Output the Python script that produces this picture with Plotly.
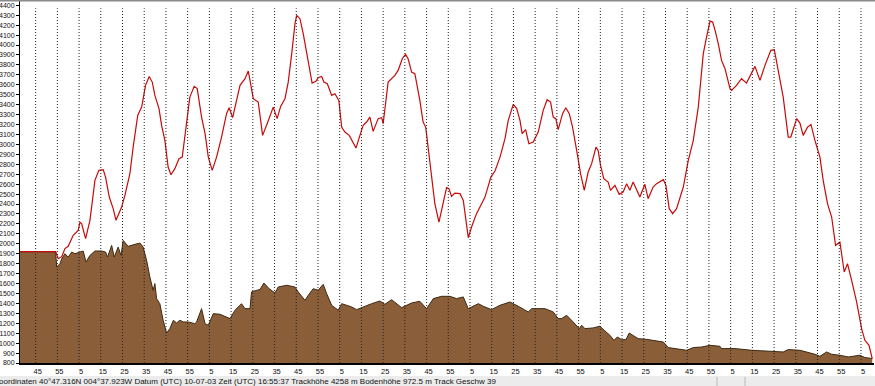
import plotly.graph_objects as go

# ---- data (x = time in minutes, labels shown modulo 60) ----
track_x = [37.8, 54.2, 55.4, 57.0, 58.5, 60.0, 62.3, 64.6, 65.4, 66.2, 68.0, 70.0, 72.3, 74.1, 76.1, 77.2,
           78.9, 80.7, 82.0, 83.4, 84.6, 86.1, 88.4, 89.9, 92.0, 93.8, 94.5, 95.6, 97.3, 98.7, 99.9, 101.8,
           103.0, 104.5, 106.0, 107.3, 109.1, 111.0, 112.5, 114.1, 116.0, 118.0, 119.4, 121.4, 123.0, 124.5,
           126.3, 128.3, 130.6, 132.9, 134.1, 135.7, 137.5, 139.1, 141.4, 142.9, 143.7, 145.2, 147.5, 149.5,
           151.6, 154.4, 156.2, 157.8, 159.8, 161.3, 162.9, 164.4, 165.2, 166.7, 168.2, 170.5, 172.3, 174.0,
           175.1, 176.7, 177.7, 179.3, 181.3, 182.8, 184.6, 185.9, 187.4, 189.4, 191.2, 192.5, 194.3, 195.8,
           197.4, 198.9, 200.4, 202.7, 204.3, 205.0, 207.3, 210.4, 211.9, 213.8, 215.3, 216.5, 218.1, 219.6,
           221.9, 223.4, 224.6, 225.8, 227.3, 228.8, 230.7, 232.2, 234.2, 235.3, 236.5, 238.0, 240.4, 241.9,
           243.1, 244.2, 245.7, 248.0, 251.9, 254.6, 256.5, 258.8, 261.1, 262.6, 264.9, 266.5, 268.0, 269.0,
           270.6, 272.1, 274.1, 276.4, 278.7, 280.5, 282.1, 283.3, 284.5, 285.6, 287.6, 289.1, 290.7, 292.2,
           294.1, 295.9, 297.6, 299.4, 301.0, 303.0, 304.0, 305.1, 306.6, 308.6, 309.7, 311.7, 313.7, 315.5,
           317.1, 318.6, 320.1, 322.0, 323.2, 325.5, 327.0, 329.3, 330.9, 334.0, 335.2, 336.7, 338.3, 340.1,
           343.2, 345.5, 347.8, 350.1, 352.4, 353.9, 355.5, 356.7, 357.8, 359.3, 360.8, 362.4, 364.7, 365.4,
           367.7, 370.0, 372.3, 376.2, 378.5, 380.8, 383.5, 385.1, 386.9, 389.2, 391.5, 392.7, 395.4, 396.9,
           398.4, 400.4, 402.0, 403.8, 406.1, 407.6, 409.6, 411.5, 413.3, 415.3, 417.3, 418.8, 420.7, 423.0,
           425.3, 426.8, 428.7, 429.9, 430.2]
track_alt = [1920, 1922, 1850, 1870, 1951, 1974, 2085, 2135, 2218, 2200, 2051, 2235, 2638, 2739, 2746, 2671,
             2470, 2353, 2236, 2319, 2370, 2487, 2705, 2973, 3292, 3375, 3476, 3594, 3684, 3627, 3493, 3360,
             3191, 3040, 2772, 2695, 2756, 2856, 2872, 3174, 3476, 3584, 3561, 3275, 3108, 2872,
             2739, 2872, 3074, 3309, 3369, 3269, 3443, 3594, 3661, 3738, 3644, 3460, 3426, 3091,
             3208, 3375, 3259, 3382, 3460, 3627, 3913, 4215, 4298, 4265, 4114, 3845, 3617, 3634,
             3671, 3684, 3627, 3611, 3493, 3510, 3443, 3174, 3124, 3091, 3007, 2963, 3091, 3191,
             3225, 3275, 3131, 3259, 3269, 3208, 3627, 3694, 3745, 3862, 3906, 3862, 3728, 3711,
             3443, 3225, 3174, 2940, 2638, 2404, 2218, 2370, 2565, 2555, 2477, 2510, 2504, 2437,
             2236, 2061, 2168, 2303, 2470, 2671, 2732, 2872, 3057, 3242, 3403, 3360, 3242, 3108,
             3148, 3007, 3023, 3124, 3342, 3449, 3426, 3275, 3259, 3148, 3309, 3369, 3309, 3174,
             2940, 2705, 2538, 2722, 2806, 2973, 2940, 2789, 2655, 2621, 2538, 2588, 2497, 2520,
             2605, 2538, 2621, 2520, 2470, 2598, 2454, 2571, 2605, 2645, 2588, 2353, 2303, 2353,
             2571, 2839, 3040, 3375, 3913, 4080, 4241, 4231, 4150, 4013, 3845, 3762, 3561, 3543,
             3594, 3661, 3617, 3785, 3644, 3795, 3946, 3953, 3745, 3476, 3074, 3074, 3259, 3215,
             3091, 3174, 3201, 3040, 2872, 2638, 2404, 2269, 1984, 2017, 1716, 1800, 1632, 1414,
             1146, 1028, 978, 860, 845]

ground_x = [37.8, 54.2, 54.7, 56.2, 57.0, 58.5, 60.0, 61.6, 63.1, 65.4, 66.9, 68.2, 70.0, 72.3, 75.4, 77.2,
            78.1, 80.0, 81.2, 83.0, 84.3, 85.3, 87.6, 90.7, 93.0, 94.5, 96.1, 97.6, 99.1, 99.9, 100.7, 102.2,
            103.7, 105.3, 106.8, 108.4, 109.9, 111.4, 113.0, 115.3, 118.3, 119.1, 121.4, 123.0, 124.5, 126.8,
            129.9, 134.5, 136.8, 139.8, 141.4, 143.7, 144.4, 146.8, 148.3, 150.1, 152.5, 155.2, 156.7, 160.6,
            164.4, 165.9, 169.0, 170.5, 172.8, 175.1, 177.4, 179.0, 181.3, 184.3, 185.9, 188.2, 190.5, 192.8,
            195.8, 199.7, 203.5, 205.8, 208.9, 213.5, 218.1, 221.9, 225.0, 228.1, 231.9, 235.7, 238.8, 241.9,
            244.2, 248.8, 251.1, 254.9, 258.8, 263.4, 267.2, 271.8, 273.4, 279.5, 283.3, 285.6, 287.2, 289.5,
            292.5, 295.3, 296.4, 297.9, 301.7, 304.8, 307.1, 309.4, 311.3, 312.8, 314.8, 316.8, 318.3, 320.1,
            322.4, 326.3, 330.1, 334.0, 336.3, 340.1, 344.7, 347.8, 351.6, 355.5, 360.1, 360.8, 367.0, 374.7,
            380.8, 389.2, 391.5, 396.9, 403.8, 406.1, 409.2, 411.5, 415.3, 419.1, 424.5, 426.8, 430.2]
ground_alt = [1920, 1920, 1766, 1800, 1850, 1900, 1866, 1917, 1900, 1917, 1927, 1816, 1883, 1927, 1927, 1917,
              1866, 1984, 1866, 1967, 1883, 2034, 1974, 1994, 2007, 1967, 1833, 1665, 1531, 1599, 1447, 1397,
              1230, 1102, 1146, 1230, 1203, 1230, 1213, 1213, 1196, 1213, 1347, 1196, 1180, 1297,
              1290, 1247, 1331, 1397, 1347, 1347, 1515, 1532, 1539, 1605, 1548, 1505, 1565, 1582,
              1565, 1515, 1431, 1481, 1548, 1532, 1592, 1498, 1381, 1331, 1397, 1381, 1364, 1337,
              1364, 1397, 1424, 1391, 1437, 1357, 1404, 1421, 1347, 1448, 1471, 1471, 1448, 1465,
              1347, 1397, 1371, 1337, 1381, 1414, 1371, 1314, 1347, 1347, 1314, 1247, 1247, 1280,
              1213, 1146, 1180, 1146, 1153, 1170, 1123, 1079, 1028, 1062, 1035, 1035, 1102, 1079,
              1045, 1038, 1028, 1011, 955, 945, 928, 955, 961, 978, 968, 945, 945, 928,
              921, 911, 935, 928, 888, 868, 911, 888, 878, 861, 878, 855, 845]

x_tick_vals = list(range(45, 426, 10))
x_tick_text = [str(v % 60) for v in x_tick_vals]
y_tick_vals = list(range(800, 4401, 100))
y_tick_text = [str(v) for v in y_tick_vals]

status_text = ("oordinaten 40°47.316N 004°37.923W Datum (UTC) 10-07-03 Zeit (UTC) 16:55:37 "
               "Trackhöhe 4258 m Bodenhöhe 972.5 m Track Geschw 39")

# ---- layout geometry (pixels) ----
W, H = 875, 386
ML, MR, MT, MB = 20, 1, 1, 23
PW, PH = W - ML - MR, H - MT - MB


def px(xpix):
    return (xpix - ML) / PW


def py(ypix):
    return (H - MB - ypix) / PH


FONT = "Liberation Sans, Arial, sans-serif"

fig = go.Figure()
fig.add_trace(go.Scatter(x=ground_x, y=ground_alt, mode="lines", fill="tozeroy",
                         fillcolor="#8b5e3a", line=dict(color="#3c2a12", width=1),
                         hoverinfo="skip", showlegend=False))
fig.add_trace(go.Scatter(x=track_x, y=track_alt, mode="lines",
                         line=dict(color="#c80a0a", width=1.2),
                         hoverinfo="skip", showlegend=False))

shapes = []
for tv in x_tick_vals:
    shapes.append(dict(type="line", xref="x", yref="y", x0=tv, x1=tv, y0=800, y1=4370,
                       line=dict(color="#222222", width=1, dash="1px,2px"), layer="above"))
# top border
shapes.append(dict(type="line", xref="paper", yref="paper", x0=px(0), x1=px(W), y0=py(0.5), y1=py(0.5),
                   line=dict(color="#8a8a8a", width=2), layer="above"))
# status bar
shapes.append(dict(type="rect", xref="paper", yref="paper", x0=px(0), x1=px(W), y0=py(376), y1=py(H + 2),
                   fillcolor="#ececec", line=dict(width=0), layer="below"))
for sx in (717, 745):
    shapes.append(dict(type="line", xref="paper", yref="paper", x0=px(sx), x1=px(sx), y0=py(377), y1=py(H),
                       line=dict(color="#b8b8b8", width=1), layer="below"))

fig.update_layout(
    template="none",
    width=W, height=H,
    margin=dict(l=ML, r=MR, t=MT, b=MB, pad=0, autoexpand=False),
    paper_bgcolor="white", plot_bgcolor="white",
    shapes=shapes,
    annotations=[dict(text=status_text, xref="paper", yref="paper", x=px(-3), y=py(381.5),
                      xanchor="left", yanchor="middle", showarrow=False,
                      font=dict(family=FONT, size=8, color="#111111"))],
    xaxis=dict(range=[37.8, 431.0], tickmode="array", tickvals=x_tick_vals, ticktext=x_tick_text,
               showgrid=False, zeroline=False, showline=True, linecolor="black", linewidth=2,
               ticks="", automargin=False,
               tickfont=dict(family=FONT, size=7.5, color="#111111"), ticklabelshift=2,
               fixedrange=True),
    yaxis=dict(range=[800, 4443], tickmode="array", tickvals=y_tick_vals, ticktext=y_tick_text,
               showgrid=False, zeroline=False, showline=True, linecolor="black", linewidth=1,
               ticks="outside", ticklen=3, tickcolor="black", automargin=False,
               tickfont=dict(family=FONT, size=7, color="#111111"), fixedrange=True),
)

fig.write_html("out.html", config={"displayModeBar": False, "staticPlot": True},
               post_script="document.body.style.margin='0';document.body.style.overflow='hidden';")
